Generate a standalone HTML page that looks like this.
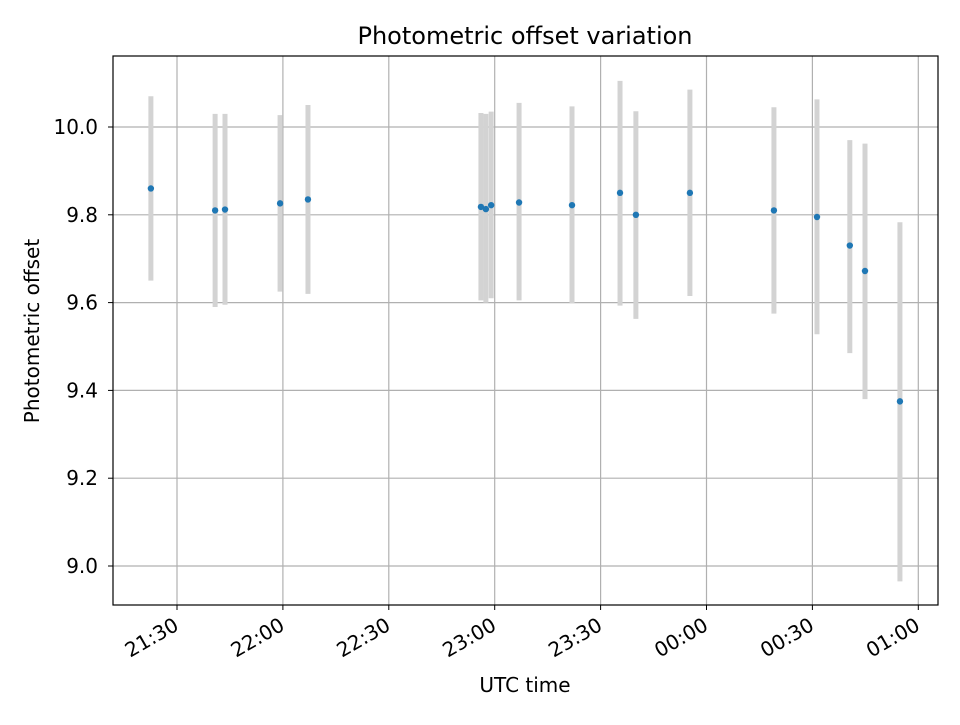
<!DOCTYPE html>
<html><head><meta charset="utf-8"><style>
body{margin:0;background:#fff;}
svg text{font-family:"DejaVu Sans","Liberation Sans",sans-serif;fill:#000;}
</style></head><body>
<svg id="chart" width="960" height="720" xmlns="http://www.w3.org/2000/svg">
<rect width="960" height="720" fill="#fff"/>
<g id="grid"></g><g id="bars"></g><g id="pts"></g><g id="axes"></g>
<text x="525" y="44" font-size="24" text-anchor="middle">Photometric offset variation</text>
<text x="525" y="692" font-size="20" text-anchor="middle">UTC time</text>
<text x="0" y="0" font-size="20" text-anchor="middle" transform="translate(39,331) rotate(-90)">Photometric offset</text>
</svg>
<script>
// minutes relative to 21:30 UTC
const times = [-7.4,10.8,13.6,29.2,37.1,86.1,87.5,89,96.9,111.9,125.5,130,145.3,169.1,181.3,190.6,194.9,204.8];
const values = [9.86,9.81,9.812,9.826,9.835,9.818,9.813,9.822,9.828,9.822,9.85,9.8,9.85,9.81,9.795,9.73,9.672,9.375];
const upper = [10.07,10.03,10.03,10.027,10.05,10.032,10.03,10.035,10.055,10.047,10.105,10.036,10.085,10.045,10.063,9.97,9.962,9.783];
const lower = [9.65,9.59,9.595,9.625,9.62,9.605,9.6,9.61,9.605,9.598,9.593,9.563,9.615,9.575,9.528,9.485,9.38,8.965];
const xTickMinutes = [0,30,60,90,120,150,180,210];
const xTickLabels = ["21:30","22:00","22:30","23:00","23:30","00:00","00:30","01:00"];
const yTicks = [9.0,9.2,9.4,9.6,9.8,10.0];

const L=113,R=938,T=56,B=605;
function xs(m){return 177+(m/30)*105.9;}
function ys(v){return 566-(v-9.0)*439;}
const NS="http://www.w3.org/2000/svg";
function mk(tag,attrs,parent){const e=document.createElementNS(NS,tag);for(const k in attrs)e.setAttribute(k,attrs[k]);document.getElementById(parent).appendChild(e);return e;}

xTickMinutes.forEach((m,i)=>{
  const x=xs(m);
  const g=mk('line',{x1:x,x2:x,y1:T,y2:B,stroke:'#b0b0b0','stroke-width':1.2},'grid');
  
  
  const t=mk('line',{x1:x,x2:x,y1:B,y2:B+5,stroke:'#000','stroke-width':1},'axes');
  
  
  const lb=mk('text',{x:0,y:0,'font-size':20,'text-anchor':'end',transform:`translate(${x+3},${B+24}) rotate(-30)`},'axes');
  lb.textContent=xTickLabels[i];
  
  
});
yTicks.forEach(v=>{
  const y=ys(v);
  const g=mk('line',{x1:L,x2:R,y1:y,y2:y,stroke:'#b0b0b0','stroke-width':1.2},'grid');
  
  
  const t=mk('line',{x1:L-5,x2:L,y1:y,y2:y,stroke:'#000','stroke-width':1},'axes');
  
  
  const lb=mk('text',{x:L-15,y:y+7,'font-size':20,'text-anchor':'end'},'axes');
  lb.textContent=v.toFixed(1);
  
  
});
const frame=mk('rect',{x:L,y:T,width:R-L,height:B-T,fill:'none',stroke:'#000','stroke-width':1.2},'axes');



times.forEach((m,i)=>{
  const x=xs(m);
  const b=mk('line',{x1:x,x2:x,y1:ys(upper[i]),y2:ys(lower[i]),stroke:'#d3d3d3','stroke-width':5},'bars');
  
  
  const p=mk('circle',{cx:x,cy:ys(values[i]),r:3.2,fill:'#1f77b4'},'pts');
  
  
});
</script>
</body></html>
